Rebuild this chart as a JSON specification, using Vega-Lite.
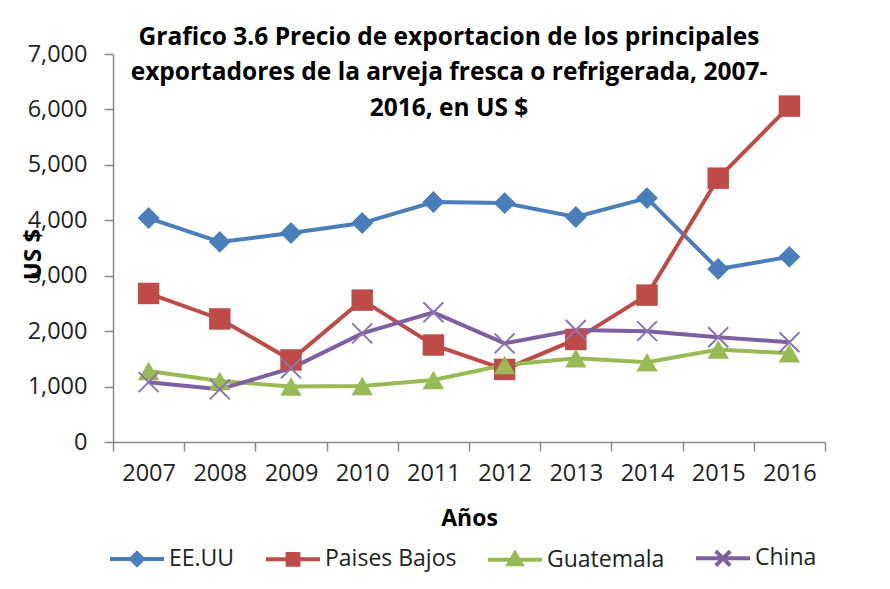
{
  "$schema": "https://vega.github.io/schema/vega-lite/v6.json",
  "autosize": "none",
  "width": 712,
  "height": 388,
  "padding": {"left": 113, "top": 54, "right": 65, "bottom": 147},
  "background": "white",
  "title": {
    "text": ["Grafico 3.6 Precio de exportacion de los principales", "exportadores de la arveja fresca o refrigerada, 2007-", "2016, en US $"],
    "font": "Open Sans",
    "fontSize": 24.5,
    "fontWeight": "bold",
    "color": "black",
    "anchor": "middle",
    "lineHeight": 35.5,
    "dx": -20,
    "offset": -79
  },
  "data": {
    "values": [
      {"year": "2007", "pais": "EE.UU", "valor": 4040},
      {"year": "2008", "pais": "EE.UU", "valor": 3610},
      {"year": "2009", "pais": "EE.UU", "valor": 3770},
      {"year": "2010", "pais": "EE.UU", "valor": 3950},
      {"year": "2011", "pais": "EE.UU", "valor": 4330},
      {"year": "2012", "pais": "EE.UU", "valor": 4310},
      {"year": "2013", "pais": "EE.UU", "valor": 4060},
      {"year": "2014", "pais": "EE.UU", "valor": 4400},
      {"year": "2015", "pais": "EE.UU", "valor": 3120},
      {"year": "2016", "pais": "EE.UU", "valor": 3340},
      {"year": "2007", "pais": "Paises Bajos", "valor": 2680},
      {"year": "2008", "pais": "Paises Bajos", "valor": 2220},
      {"year": "2009", "pais": "Paises Bajos", "valor": 1480},
      {"year": "2010", "pais": "Paises Bajos", "valor": 2560},
      {"year": "2011", "pais": "Paises Bajos", "valor": 1750},
      {"year": "2012", "pais": "Paises Bajos", "valor": 1310},
      {"year": "2013", "pais": "Paises Bajos", "valor": 1850},
      {"year": "2014", "pais": "Paises Bajos", "valor": 2650},
      {"year": "2015", "pais": "Paises Bajos", "valor": 4760},
      {"year": "2016", "pais": "Paises Bajos", "valor": 6060},
      {"year": "2007", "pais": "Guatemala", "valor": 1280},
      {"year": "2008", "pais": "Guatemala", "valor": 1100},
      {"year": "2009", "pais": "Guatemala", "valor": 1000},
      {"year": "2010", "pais": "Guatemala", "valor": 1010},
      {"year": "2011", "pais": "Guatemala", "valor": 1120},
      {"year": "2012", "pais": "Guatemala", "valor": 1390},
      {"year": "2013", "pais": "Guatemala", "valor": 1510},
      {"year": "2014", "pais": "Guatemala", "valor": 1440},
      {"year": "2015", "pais": "Guatemala", "valor": 1670},
      {"year": "2016", "pais": "Guatemala", "valor": 1600},
      {"year": "2007", "pais": "China", "valor": 1080},
      {"year": "2008", "pais": "China", "valor": 950},
      {"year": "2009", "pais": "China", "valor": 1330},
      {"year": "2010", "pais": "China", "valor": 1960},
      {"year": "2011", "pais": "China", "valor": 2340},
      {"year": "2012", "pais": "China", "valor": 1780},
      {"year": "2013", "pais": "China", "valor": 2020},
      {"year": "2014", "pais": "China", "valor": 2000},
      {"year": "2015", "pais": "China", "valor": 1890},
      {"year": "2016", "pais": "China", "valor": 1800}
    ]
  },
  "encoding": {
    "x": {
      "field": "year",
      "type": "ordinal",
      "bandPosition": 0.5,
      "scale": {"type": "band", "paddingInner": 0, "paddingOuter": 0},
      "axis": {
        "title": "Años",
        "titleFont": "Open Sans",
        "titleFontSize": 23,
        "titleFontWeight": "bold",
        "titleColor": "black",
        "titleBaseline": "middle",
        "titleY": 76,
        "labelAngle": 0,
        "labelFont": "Open Sans",
        "labelFontSize": 23.5,
        "labelColor": "#222",
        "labelPadding": 10,
        "tickBand": "extent",
        "tickSize": 9,
        "tickColor": "#888",
        "domainColor": "#888",
        "domainWidth": 1.5,
        "tickWidth": 1.5,
        "grid": false
      }
    },
    "y": {
      "field": "valor",
      "type": "quantitative",
      "scale": {"domain": [0, 7000], "nice": false},
      "axis": {
        "title": "US $",
        "titleFont": "Open Sans",
        "titleFontSize": 24,
        "titleFontWeight": "bold",
        "titleColor": "black",
        "titleAngle": -90,
        "titleX": -80,
        "titleY": 200,
        "titleAlign": "center",
        "titleBaseline": "middle",
        "values": [0, 1000, 2000, 3000, 4000, 5000, 6000, 7000],
        "format": ",.0f",
        "labelFont": "Open Sans",
        "labelFontSize": 23.5,
        "labelColor": "#222",
        "labelPadding": 17,
        "tickSize": 9,
        "tickColor": "#888",
        "domainColor": "#888",
        "domainWidth": 1.5,
        "tickWidth": 1.5,
        "grid": false
      }
    }
  },
  "layer": [
    {
      "mark": {"type": "line", "strokeWidth": 4},
      "encoding": {
        "color": {
          "field": "pais",
          "type": "nominal",
          "sort": ["EE.UU", "Paises Bajos", "Guatemala", "China"],
          "scale": {
            "domain": ["EE.UU", "Paises Bajos", "Guatemala", "China"],
            "range": ["#4A7EBB", "#BE4B48", "#98B954", "#7D60A0"]
          },
          "legend": {
            "title": null,
            "orient": "none",
            "direction": "horizontal",
            "legendX": -5,
            "legendY": 475,
            "symbolSize": 2916,
            "labelFont": "Open Sans",
            "labelFontSize": 23,
            "labelColor": "#222",
            "labelOffset": 3,
            "columnPadding": 23,
            "encode": {
              "symbols": {
                "update": {
                  "shape": {"signal": "datum.value === 'EE.UU' ? 'M-1,0L1,0M0,-0.22L0.22,0L0,0.22L-0.22,0Z' : datum.value === 'Paises Bajos' ? 'M-1,0L1,0M-0.2,-0.2L0.2,-0.2L0.2,0.2L-0.2,0.2Z' : datum.value === 'Guatemala' ? 'M-1,0L1,0M0,-0.24L0.24,0.17L-0.24,0.17Z' : 'M-1,0L1,0M-0.27,-0.27L0.27,0.27M-0.27,0.27L0.27,-0.27'"},
                  "fill": {"signal": "scale('color', datum.value)"},
                  "stroke": {"signal": "scale('color', datum.value)"},
                  "strokeWidth": {"value": 4},
                  "opacity": {"value": 1},
                  "fillOpacity": {"value": 1}
                }
              }
            }
          }
        }
      }
    },
    {
      "transform": [{"filter": "datum.pais === 'EE.UU'"}],
      "mark": {"type": "point", "shape": "diamond", "filled": true, "opacity": 1, "size": 480, "color": "#4A7EBB"}
    },
    {
      "transform": [{"filter": "datum.pais === 'Paises Bajos'"}],
      "mark": {"type": "point", "shape": "square", "filled": true, "opacity": 1, "size": 460, "color": "#BE4B48"}
    },
    {
      "transform": [{"filter": "datum.pais === 'Guatemala'"}],
      "mark": {"type": "point", "shape": "triangle-up", "filled": true, "opacity": 1, "size": 460, "color": "#98B954"}
    },
    {
      "transform": [{"filter": "datum.pais === 'China'"}],
      "mark": {"type": "point", "shape": "M-1,-1L1,1M-1,1L1,-1", "filled": false, "opacity": 1, "size": 400, "strokeWidth": 2, "color": "#8C74B0"}
    }
  ],
  "config": {
    "view": {"stroke": null},
    "font": "Open Sans"
  }
}
